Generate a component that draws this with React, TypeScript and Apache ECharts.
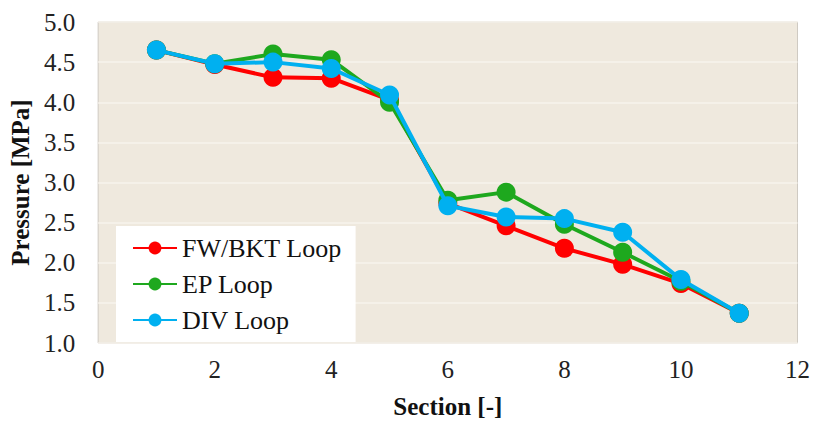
import React, { useEffect, useRef } from "react";
import * as echarts from "echarts";

const sections = [1, 2, 3, 4, 5, 6, 7, 8, 9, 10, 11];
const fwBkt = [4.65, 4.47, 4.31, 4.3, 4.03, 2.74, 2.46, 2.18, 1.98, 1.74, 1.37];
const epLoop = [4.65, 4.48, 4.6, 4.53, 4.0, 2.78, 2.88, 2.48, 2.13, 1.77, 1.37];
const divLoop = [4.65, 4.48, 4.5, 4.42, 4.09, 2.71, 2.57, 2.55, 2.38, 1.79, 1.37];
const seriesNames = ["FW/BKT Loop", "EP Loop", "DIV Loop"];
const seriesColors = ["#ff0000", "#1ea81e", "#00b0f0"];

export default function App() {
  const ref = useRef<HTMLDivElement>(null);
  useEffect(() => {
    if (!ref.current) return;
    const chart = echarts.init(ref.current, null, { renderer: "svg" });
    const font = "Liberation Serif, Times New Roman, DejaVu Serif, serif";
    const datasets = [fwBkt, epLoop, divLoop];
    chart.setOption({
      animation: false,
      textStyle: { fontFamily: font },
      grid: {
        left: 96,
        right: 13,
        top: 22,
        bottom: 81,
        show: true,
        backgroundColor: "#efe9de",
        borderColor: "#cfcac2",
        borderWidth: 1,
      },
      legend: {
        orient: "vertical",
        left: 116,
        top: 226,
        padding: [9, 14, 9, 16],
        backgroundColor: "#ffffff",
        itemWidth: 44,
        itemHeight: 16,
        itemGap: 10,
        textStyle: { fontFamily: font, fontSize: 26, color: "#111" },
        data: seriesNames,
      },
      xAxis: {
        type: "value",
        min: 0,
        max: 12,
        interval: 2,
        name: "Section [-]",
        nameLocation: "middle",
        nameGap: 51,
        nameTextStyle: { fontFamily: font, fontSize: 25, fontWeight: "bold", color: "#111" },
        axisLine: { show: false },
        axisTick: { show: false },
        splitLine: { show: false },
        axisLabel: { fontFamily: font, fontSize: 25, color: "#222", margin: 14 },
      },
      yAxis: {
        type: "value",
        min: 1,
        max: 5,
        interval: 0.5,
        name: "Pressure [MPa]",
        nameLocation: "middle",
        nameRotate: 90,
        nameGap: 60,
        nameTextStyle: { fontFamily: font, fontSize: 25, fontWeight: "bold", color: "#111" },
        axisLine: { show: false },
        axisTick: { show: false },
        splitLine: { show: true, lineStyle: { color: "#f7f3ec", width: 1.5 } },
        axisLabel: {
          fontFamily: font,
          fontSize: 25,
          color: "#222",
          margin: 23,
          formatter: (v: number) => v.toFixed(1),
        },
      },
      series: datasets.map((d, i) => ({
        name: seriesNames[i],
        type: "line",
        data: sections.map((s, j) => [s, d[j]]),
        symbol: "circle",
        symbolSize: 19,
        color: seriesColors[i],
        lineStyle: { width: 4, color: seriesColors[i] },
        itemStyle: { color: seriesColors[i] },
        z: 2 + i,
      })),
    });
    return () => chart.dispose();
  }, []);
  return (
    <div
      ref={ref}
      style={{ position: "fixed", left: 0, top: 0, width: 813, height: 424, background: "#fff" }}
    />
  );
}
